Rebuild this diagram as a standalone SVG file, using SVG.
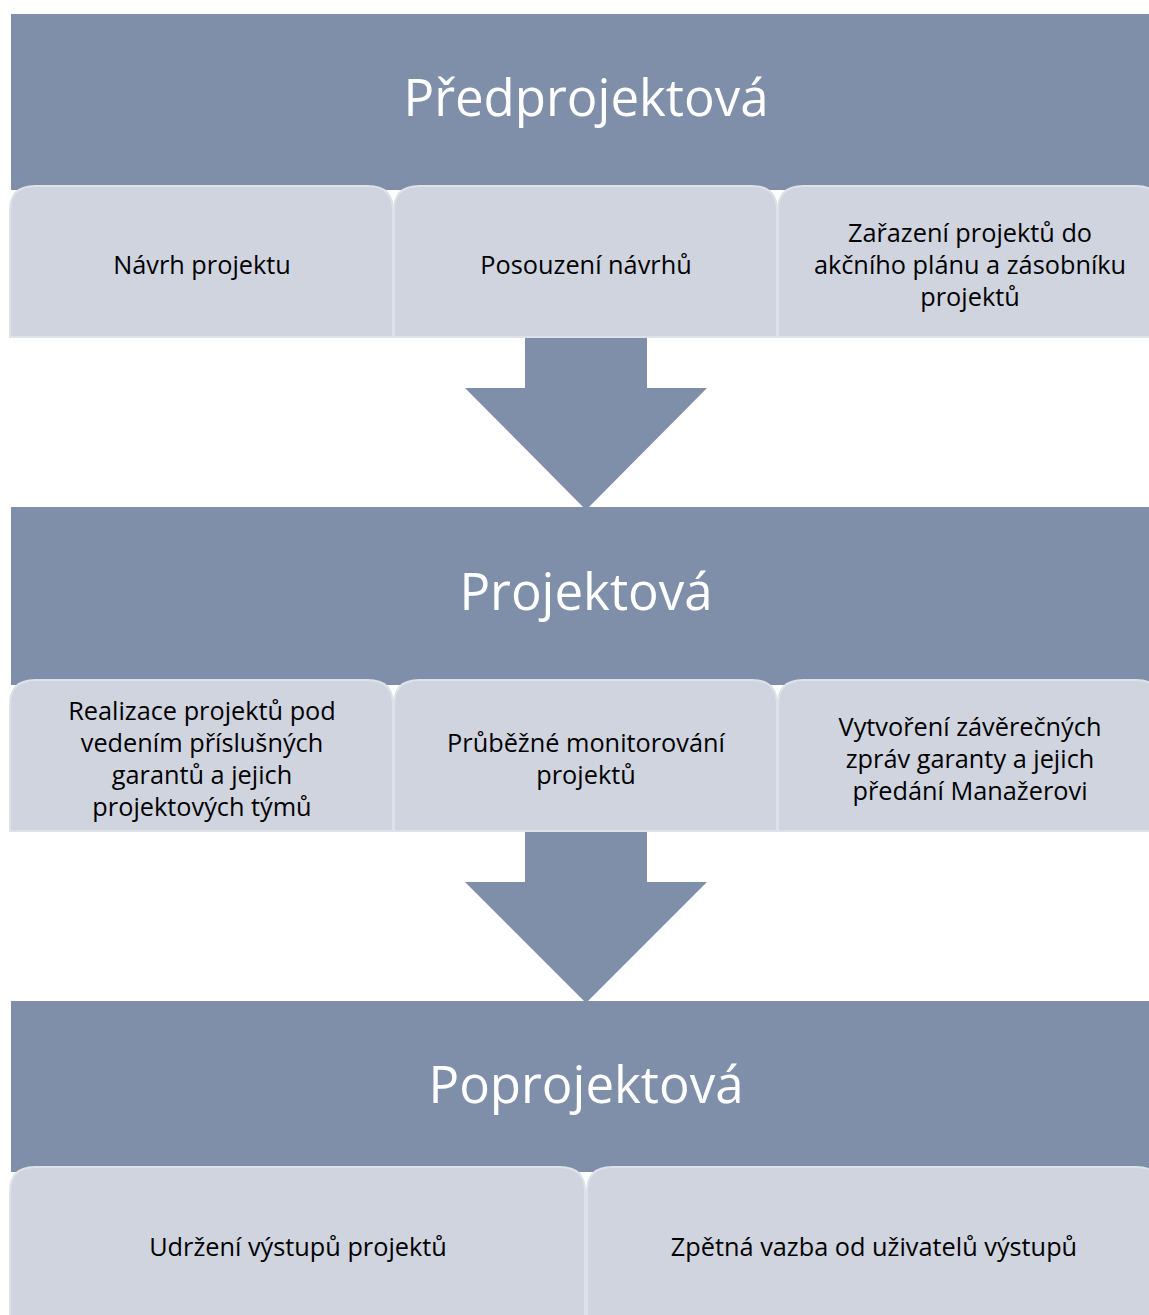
<svg xmlns="http://www.w3.org/2000/svg" width="1149" height="1315" viewBox="0 0 1149 1315">
<style>
.hdr{fill:#7F8FA9}
.sub{fill:#CFD4DE;stroke:#DDE1E8;stroke-width:2}
.arrow{fill:#7F8FA9}
.title{font-family:"Open Sans",sans-serif;font-size:51px;fill:#FFFFFF;text-anchor:middle}
.lbl{font-family:"Open Sans",sans-serif;font-size:25.3px;fill:#000000;text-anchor:middle}
</style>
<rect width="1149" height="1315" fill="#FFFFFF"/>
<g id="connectors">
<path class="arrow" d="M525,337 H647 V388 H707 L586,510 L465,388 H525 Z"/>
<path class="arrow" d="M525,831 H647 V882 H707 L586,1003 L465,882 H525 Z"/>
</g>
<g id="phase1">
<rect class="hdr" x="11" y="14" width="1138" height="176"/>
<text class="title" x="586" y="116">Předprojektová</text>
</g>
<g id="p1a">
<path class="sub" d="M10,337 V211 Q10,186 35,186 H368 Q393,186 393,211 V337 Z"/>
<text class="lbl" x="202" y="274">Návrh projektu</text>
</g>
<g id="p1b">
<path class="sub" d="M394,337 V211 Q394,186 419,186 H752 Q777,186 777,211 V337 Z"/>
<text class="lbl" x="586" y="274">Posouzení návrhů</text>
</g>
<g id="p1c">
<path class="sub" d="M778,337 V211 Q778,186 803,186 H1136 Q1161,186 1161,211 V337 Z"/>
<text class="lbl" x="970" y="242">Zařazení projektů do</text>
<text class="lbl" x="970" y="274">akčního plánu a zásobníku</text>
<text class="lbl" x="970" y="306">projektů</text>
</g>
<g id="phase2">
<rect class="hdr" x="11" y="507" width="1138" height="178"/>
<text class="title" x="586" y="610">Projektová</text>
</g>
<g id="p2a">
<path class="sub" d="M10,831 V705 Q10,680 35,680 H368 Q393,680 393,705 V831 Z"/>
<text class="lbl" x="202" y="720">Realizace projektů pod</text>
<text class="lbl" x="202" y="752">vedením příslušných</text>
<text class="lbl" x="202" y="784">garantů a jejich</text>
<text class="lbl" x="202" y="816">projektových týmů</text>
</g>
<g id="p2b">
<path class="sub" d="M394,831 V705 Q394,680 419,680 H752 Q777,680 777,705 V831 Z"/>
<text class="lbl" x="586" y="752">Průběžné monitorování</text>
<text class="lbl" x="586" y="784">projektů</text>
</g>
<g id="p2c">
<path class="sub" d="M778,831 V705 Q778,680 803,680 H1136 Q1161,680 1161,705 V831 Z"/>
<text class="lbl" x="970" y="736">Vytvoření závěrečných</text>
<text class="lbl" x="970" y="768">zpráv garanty a jejich</text>
<text class="lbl" x="970" y="800">předání Manažerovi</text>
</g>
<g id="phase3">
<rect class="hdr" x="11" y="1001" width="1138" height="171"/>
<text class="title" x="586" y="1103">Poprojektová</text>
</g>
<g id="p3a">
<path class="sub" d="M10,1330 V1192 Q10,1167 35,1167 H560 Q585,1167 585,1192 V1330 Z"/>
<text class="lbl" x="298" y="1256">Udržení výstupů projektů</text>
</g>
<g id="p3b">
<path class="sub" d="M587,1330 V1192 Q587,1167 612,1167 H1136 Q1161,1167 1161,1192 V1330 Z"/>
<text class="lbl" x="874" y="1256">Zpětná vazba od uživatelů výstupů</text>
</g>
</svg>
